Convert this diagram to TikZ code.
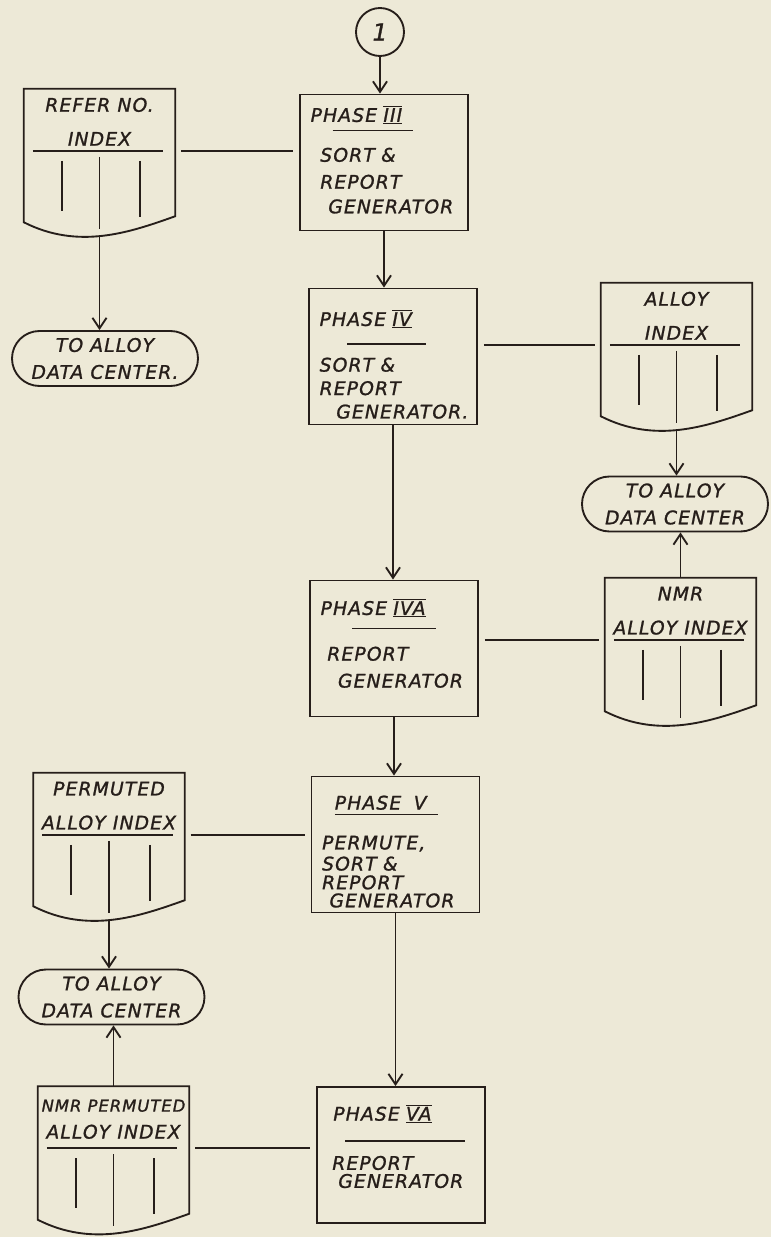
\documentclass[tikz,border=0pt]{standalone}
\usepackage{xcolor}
\usepackage{fontspec}
\usepackage{tikz}
\usetikzlibrary{shapes.misc,arrows.meta,calc}

\newfontfamily\hand{DejaVu Sans Oblique}[LetterSpace=6,FakeBold=1.2]
\definecolor{paper}{RGB}{237,233,215}
\definecolor{ink}{RGB}{38,30,26}

\newcommand{\phnum}[1]{$\overline{\underline{\hbox{#1}}}$}
\newcommand{\phrule}[2]{\hspace*{#1}\rule{#2}{1.2pt}}
\newcommand{\uplift}[1]{\rule{0pt}{#1}}
\newcommand{\downlift}[1]{\rule[-#1]{0pt}{#1}}

% printed sheet: wavy foot, title rule, three columns
\newcommand{\docsheet}[2]{%
  \draw [inkline] (#1.north west) -- (#1.south west)
    .. controls +(55,28) and +(-45,16) .. ($(#1.south east)+(0,-6)$)
    -- (#1.north east) -- cycle;
  \node [doctitle] (#1-title) at ($(#1.north)+(0,33)$) {#2};
  \coordinate (#1-rule) at ($(#1.north)+(0,62)$);
  \coordinate (#1-foot) at ($(#1.south)+(0,14)$);
  \draw [inkline] ($(#1.north west)+(9,62)$) -- ($(#1.north east)+(-12,62)$);
  \foreach \f/\a/\b in {0.25/72/122, 0.5/68/140, 0.77/72/128}
    \draw [inkline] ($(#1.north west)!\f!(#1.north east)+(0,\a)$) -- ($(#1.north west)!\f!(#1.north east)+(0,\b)$);
}

\begin{document}
\begin{tikzpicture}[
      x=0.03cm, y=-0.03cm,
      inkline/.style={draw=ink, line width=1.6pt},
      arrow/.style={inkline, -{Straight Barb[length=9pt,width=12pt]}},
      link/.style={inkline, shorten <=5pt, shorten >=5pt},
      phase/.style={rectangle, draw=ink, line width=1.6pt, minimum width=5.04cm, minimum height=4.08cm, text width=4.4cm, align=left, inner sep=0pt, text=ink, font=\hand\fontsize{16}{20}\selectfont},
      docbox/.style={minimum width=4.53cm, minimum height=3.99cm, inner sep=0pt},
      doctitle/.style={align=center, text=ink, inner sep=0pt, font=\hand\fontsize{16}{29}\selectfont},
      terminal/.style={rounded rectangle, draw=ink, line width=1.6pt, minimum width=5.58cm, minimum height=1.65cm, align=center, inner sep=0pt, text=ink, font=\hand\fontsize{16}{23}\selectfont},
      joint/.style={circle, draw=ink, line width=1.6pt, minimum size=1.44cm, inner sep=0pt, text=ink, font=\hand\fontsize{20}{22}\selectfont}
    ]
      \useasboundingbox [fill=paper] (0,0) rectangle (771,1237);

      % main chain of phases
      \node [joint] (one) at (380,32) {1};
      \node [phase] (iii) at (384,162.5) {PHASE \phnum{III}\\[-12pt]
        \phrule{0.66cm}{2.4cm}\\[6pt]
        \hspace*{0.29cm}SORT \&\\[3pt]
        \hspace*{0.29cm}REPORT\\[1pt]
        \hspace*{0.53cm}GENERATOR\downlift{5pt}};
      \node [phase] (iv) at (393,356.5) {\uplift{27pt}PHASE \phnum{IV}\\[-4pt]
        \phrule{0.83cm}{2.37cm}\\[3pt]
        SORT \&\\
        REPORT\\
        \hspace*{0.5cm}GENERATOR.};
      \node [phase] (iva) at (394,648.5) {PHASE \phnum{IVA}\\[-8pt]
        \phrule{0.95cm}{2.5cm}\\[7pt]
        \hspace*{0.2cm}REPORT\\[3pt]
        \hspace*{0.52cm}GENERATOR\downlift{9pt}};
      \node [phase] (v) at (395.5,844.5) {\uplift{24pt}\hspace*{0.38cm}PHASE\ \ V\\[-15pt]
        \phrule{0.38cm}{3.1cm}\\[9pt]
        PERMUTE,\\[-2pt]
        SORT \&\\[-4pt]
        REPORT\\[-4.6pt]
        \hspace*{0.22cm}GENERATOR};
      \node [phase] (va) at (401,1155) {\hspace*{0.17cm}PHASE \phnum{VA}\\[-2pt]
        \phrule{0.53cm}{3.6cm}\\[4pt]
        \hspace*{0.14cm}REPORT\\[-4.6pt]
        \hspace*{0.32cm}GENERATOR\downlift{15pt}};

      % printed indexes
      \node [docbox] (refer) at (99.5,155.5) {};
      \docsheet{refer}{REFER NO.\\INDEX}
      \node [docbox] (alloy) at (676.5,349.5) {};
      \docsheet{alloy}{ALLOY\\INDEX}
      \node [docbox] (nmr) at (680.5,644.5) {};
      \docsheet{nmr}{NMR\\ALLOY INDEX}
      \node [docbox] (perm) at (109,839.5) {};
      \docsheet{perm}{PERMUTED\\ALLOY INDEX}
      \node [docbox] (nmrperm) at (113.5,1153) {};
      \docsheet{nmrperm}{\fontsize{14}{16}\selectfont NMR PERMUTED\\[-6pt]ALLOY INDEX}

      % terminals
      \node [terminal] (adc1) at (105,358.5) {TO ALLOY\\DATA CENTER.};
      \node [terminal] (adc2) at (675,504) {TO ALLOY\\DATA CENTER};
      \node [terminal] (adc3) at (111.5,997) {TO ALLOY\\DATA CENTER};

      \draw [arrow] (one.south) -- (one.south |- iii.north);
      \draw [arrow] (iii.south) -- (iii.south |- iv.north);
      \draw [arrow] (iv.south) -- (iv.south |- iva.north);
      \draw [arrow] (iva.south) -- (iva.south |- v.north);
      \draw [arrow] (v.south) -- (v.south |- va.north);

      \draw [link] (refer.east |- refer-rule) -- (iii.west |- refer-rule);
      \draw [link] (iv.east |- alloy-rule) -- (alloy.west |- alloy-rule);
      \draw [link] (iva.east |- nmr-rule) -- (nmr.west |- nmr-rule);
      \draw [link] (perm.east |- perm-rule) -- (v.west |- perm-rule);
      \draw [link] (nmrperm.east |- nmrperm-rule) -- (va.west |- nmrperm-rule);

      \draw [arrow] (refer-foot) -- (refer-foot |- adc1.north);
      \draw [arrow] (alloy-foot) -- (alloy-foot |- adc2.north);
      \draw [arrow] (nmr.north) -- (nmr.north |- adc2.south);
      \draw [arrow] (perm-foot) -- (perm-foot |- adc3.north);
      \draw [arrow] (nmrperm.north) -- (nmrperm.north |- adc3.south);
    \end{tikzpicture}
\end{document}
